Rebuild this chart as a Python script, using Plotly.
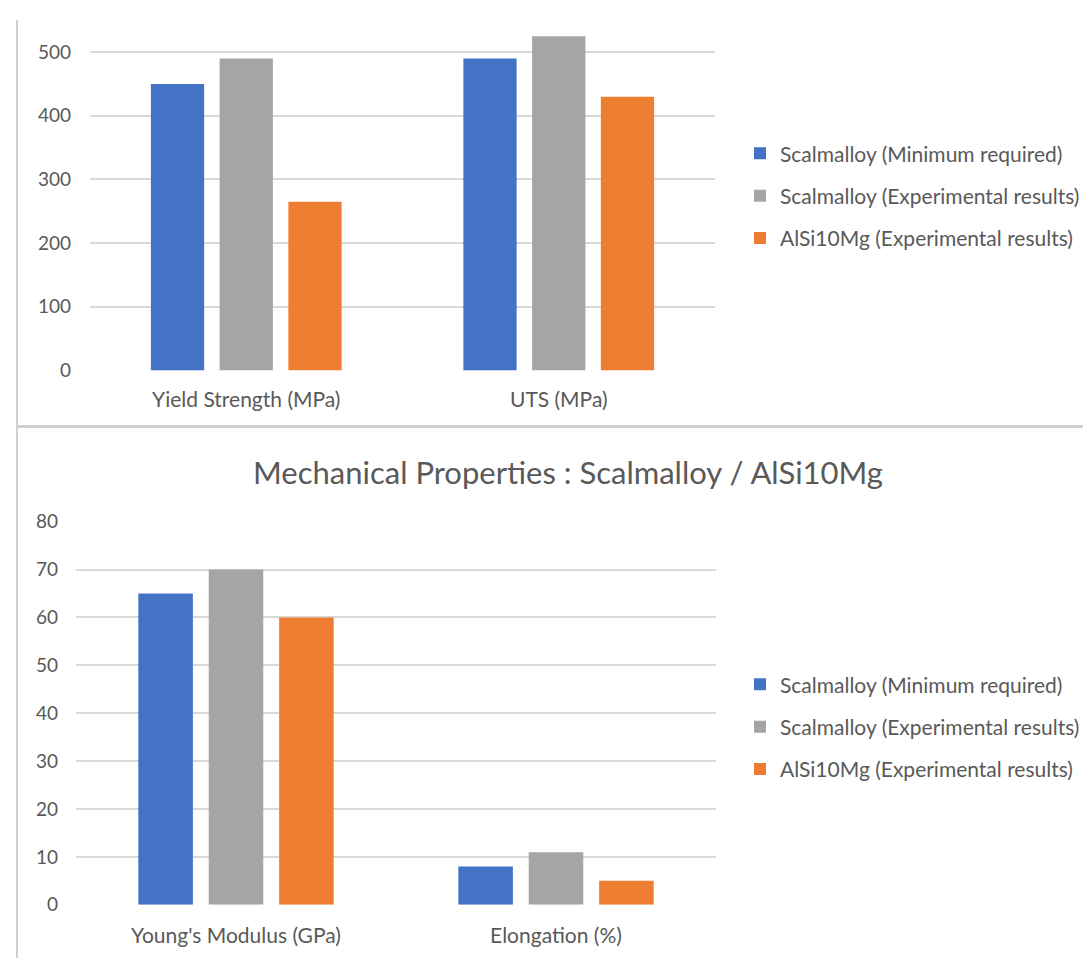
import plotly.graph_objects as go

W, H = 1091, 961

series_names = [
    "Scalmalloy (Minimum required)",
    "Scalmalloy (Experimental results)",
    "AlSi10Mg (Experimental results)",
]
colors = ["#4472C4", "#A5A5A5", "#ED7D31"]

top_categories = ["Yield Strength (MPa)", "UTS (MPa)"]
top_values = [
    [450, 490],   # Scalmalloy (Minimum required)
    [490, 525],   # Scalmalloy (Experimental results)
    [265, 430],   # AlSi10Mg (Experimental results)
]
top_ticks = [0, 100, 200, 300, 400, 500]

bottom_categories = ["Young's Modulus (GPa)", "Elongation (%)"]
bottom_values = [
    [65, 8],
    [70, 11],
    [60, 5],
]
bottom_ticks = [0, 10, 20, 30, 40, 50, 60, 70, 80]

chart_title = "Mechanical Properties : Scalmalloy / AlSi10Mg"

FONT = "Lato"
TXT = "#595959"
GRID = "#d9d9d9"

fig = go.Figure()

for i, name in enumerate(series_names):
    fig.add_trace(go.Bar(
        x=top_categories, y=top_values[i], name=name,
        marker=dict(color=colors[i], line=dict(width=0)),
        xaxis="x", yaxis="y", legend="legend", legendgroup="t%d" % i,
    ))
for i, name in enumerate(series_names):
    fig.add_trace(go.Bar(
        x=bottom_categories, y=bottom_values[i], name=name,
        marker=dict(color=colors[i], line=dict(width=0)),
        xaxis="x2", yaxis="y2", legend="legend2", legendgroup="b%d" % i,
    ))

def px_x(p):
    return p / W

def px_y(p):
    return 1 - p / H

xfont = dict(family=FONT, size=21, color=TXT)
yfont = dict(family=FONT, size=19, color=TXT)
base = dict(showline=False, zeroline=False, ticks="")

fig.update_layout(
    width=W, height=H,
    margin=dict(l=0, r=0, t=0, b=0),
    paper_bgcolor="white", plot_bgcolor="white",
    barmode="group", bargap=0.34, bargroupgap=0.225,
    font=dict(family=FONT, color=TXT),
    xaxis=dict(domain=[px_x(82), px_x(707)], anchor="y", showgrid=False,
               ticklabelstandoff=15, tickfont=xfont, **base),
    yaxis=dict(domain=[px_y(359), px_y(0)], anchor="x", range=[0, 550.6],
               tickvals=top_ticks, showgrid=True, gridcolor=GRID, gridwidth=1.5,
               ticklabelstandoff=18, tickfont=yfont, **base),
    xaxis2=dict(domain=[px_x(68), px_x(708)], anchor="y2", showgrid=False,
                ticklabelstandoff=16, tickfont=xfont, **base),
    yaxis2=dict(domain=[px_y(906.5), px_y(514)], anchor="x2", range=[0, 80],
                tickvals=bottom_ticks, showgrid=True, gridcolor=GRID, gridwidth=1.5,
                ticklabelstandoff=17, tickfont=yfont, **base),
    legend=dict(x=px_x(732), y=px_y(116), xanchor="left", yanchor="top",
                font=dict(family=FONT, size=21, color=TXT), tracegroupgap=12,
                bgcolor="rgba(0,0,0,0)"),
    legend2=dict(x=px_x(732), y=px_y(660), xanchor="left", yanchor="top",
                 font=dict(family=FONT, size=21, color=TXT), tracegroupgap=12,
                 bgcolor="rgba(0,0,0,0)"),
    annotations=[dict(text=chart_title, x=px_x(560), y=px_y(463),
                      xref="paper", yref="paper", xanchor="center", yanchor="middle",
                      showarrow=False, font=dict(family=FONT, size=31, color=TXT))],
    shapes=[
        dict(type="line", xref="paper", yref="paper", x0=px_x(9), x1=px_x(9),
             y0=0, y1=1, line=dict(color="#d0d0d0", width=2)),
        dict(type="line", xref="paper", yref="paper", x0=px_x(9), x1=1,
             y0=px_y(416.5), y1=px_y(416.5), line=dict(color="#cfcfcf", width=3)),
    ],
)

fig.write_html("out.html")
